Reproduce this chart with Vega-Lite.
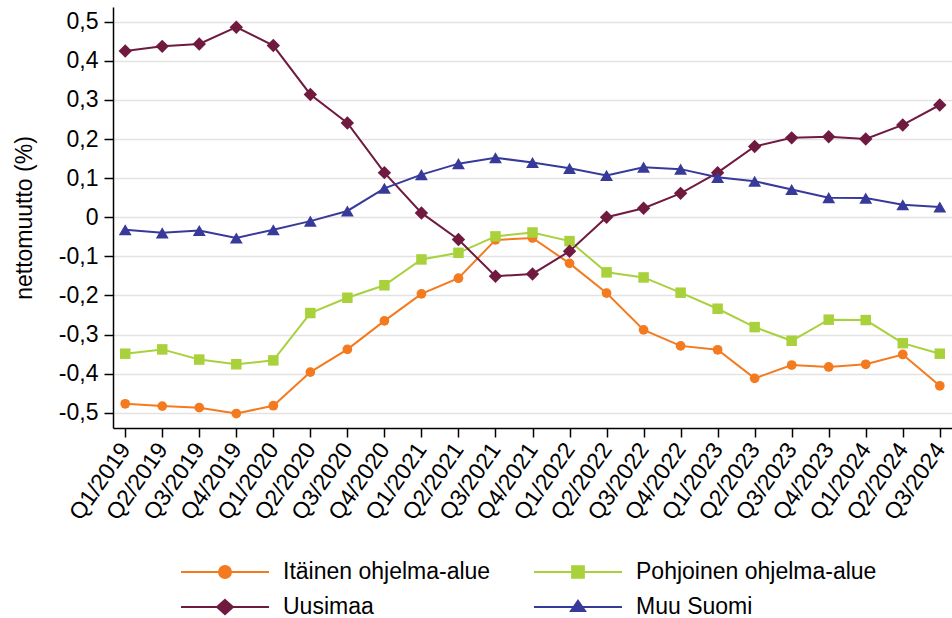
{
  "$schema": "https://vega.github.io/schema/vega-lite/v6.json",
  "width": 839,
  "height": 421,
  "autosize": {"type": "none"},
  "padding": {"left": 113, "top": 7, "right": 0, "bottom": 190},
  "background": "white",
  "config": {
    "view": {"stroke": null},
    "font": "Liberation Sans",
    "axis": {"labelFont": "Liberation Sans", "titleFont": "Liberation Sans", "labelColor": "black", "titleColor": "black", "domainColor": "black", "tickColor": "black", "domainWidth": 1.5, "tickWidth": 1.5, "tickSize": 9}
  },
  "data": {"values": [
    {"q":"Q1/2019","s":"Itäinen ohjelma-alue","v":-0.477},{"q":"Q2/2019","s":"Itäinen ohjelma-alue","v":-0.483},{"q":"Q3/2019","s":"Itäinen ohjelma-alue","v":-0.487},{"q":"Q4/2019","s":"Itäinen ohjelma-alue","v":-0.502},
    {"q":"Q1/2020","s":"Itäinen ohjelma-alue","v":-0.482},{"q":"Q2/2020","s":"Itäinen ohjelma-alue","v":-0.396},{"q":"Q3/2020","s":"Itäinen ohjelma-alue","v":-0.338},{"q":"Q4/2020","s":"Itäinen ohjelma-alue","v":-0.265},
    {"q":"Q1/2021","s":"Itäinen ohjelma-alue","v":-0.196},{"q":"Q2/2021","s":"Itäinen ohjelma-alue","v":-0.156},{"q":"Q3/2021","s":"Itäinen ohjelma-alue","v":-0.058},{"q":"Q4/2021","s":"Itäinen ohjelma-alue","v":-0.053},
    {"q":"Q1/2022","s":"Itäinen ohjelma-alue","v":-0.118},{"q":"Q2/2022","s":"Itäinen ohjelma-alue","v":-0.194},{"q":"Q3/2022","s":"Itäinen ohjelma-alue","v":-0.288},{"q":"Q4/2022","s":"Itäinen ohjelma-alue","v":-0.329},
    {"q":"Q1/2023","s":"Itäinen ohjelma-alue","v":-0.339},{"q":"Q2/2023","s":"Itäinen ohjelma-alue","v":-0.412},{"q":"Q3/2023","s":"Itäinen ohjelma-alue","v":-0.378},{"q":"Q4/2023","s":"Itäinen ohjelma-alue","v":-0.383},
    {"q":"Q1/2024","s":"Itäinen ohjelma-alue","v":-0.376},{"q":"Q2/2024","s":"Itäinen ohjelma-alue","v":-0.351},{"q":"Q3/2024","s":"Itäinen ohjelma-alue","v":-0.431},
    {"q":"Q1/2019","s":"Pohjoinen ohjelma-alue","v":-0.349},{"q":"Q2/2019","s":"Pohjoinen ohjelma-alue","v":-0.338},{"q":"Q3/2019","s":"Pohjoinen ohjelma-alue","v":-0.364},{"q":"Q4/2019","s":"Pohjoinen ohjelma-alue","v":-0.376},
    {"q":"Q1/2020","s":"Pohjoinen ohjelma-alue","v":-0.366},{"q":"Q2/2020","s":"Pohjoinen ohjelma-alue","v":-0.245},{"q":"Q3/2020","s":"Pohjoinen ohjelma-alue","v":-0.206},{"q":"Q4/2020","s":"Pohjoinen ohjelma-alue","v":-0.174},
    {"q":"Q1/2021","s":"Pohjoinen ohjelma-alue","v":-0.108},{"q":"Q2/2021","s":"Pohjoinen ohjelma-alue","v":-0.091},{"q":"Q3/2021","s":"Pohjoinen ohjelma-alue","v":-0.049},{"q":"Q4/2021","s":"Pohjoinen ohjelma-alue","v":-0.039},
    {"q":"Q1/2022","s":"Pohjoinen ohjelma-alue","v":-0.061},{"q":"Q2/2022","s":"Pohjoinen ohjelma-alue","v":-0.141},{"q":"Q3/2022","s":"Pohjoinen ohjelma-alue","v":-0.154},{"q":"Q4/2022","s":"Pohjoinen ohjelma-alue","v":-0.193},
    {"q":"Q1/2023","s":"Pohjoinen ohjelma-alue","v":-0.234},{"q":"Q2/2023","s":"Pohjoinen ohjelma-alue","v":-0.281},{"q":"Q3/2023","s":"Pohjoinen ohjelma-alue","v":-0.316},{"q":"Q4/2023","s":"Pohjoinen ohjelma-alue","v":-0.262},
    {"q":"Q1/2024","s":"Pohjoinen ohjelma-alue","v":-0.263},{"q":"Q2/2024","s":"Pohjoinen ohjelma-alue","v":-0.322},{"q":"Q3/2024","s":"Pohjoinen ohjelma-alue","v":-0.349},
    {"q":"Q1/2019","s":"Uusimaa","v":0.425},{"q":"Q2/2019","s":"Uusimaa","v":0.437},{"q":"Q3/2019","s":"Uusimaa","v":0.443},{"q":"Q4/2019","s":"Uusimaa","v":0.486},
    {"q":"Q1/2020","s":"Uusimaa","v":0.439},{"q":"Q2/2020","s":"Uusimaa","v":0.314},{"q":"Q3/2020","s":"Uusimaa","v":0.241},{"q":"Q4/2020","s":"Uusimaa","v":0.114},
    {"q":"Q1/2021","s":"Uusimaa","v":0.011},{"q":"Q2/2021","s":"Uusimaa","v":-0.057},{"q":"Q3/2021","s":"Uusimaa","v":-0.151},{"q":"Q4/2021","s":"Uusimaa","v":-0.145},
    {"q":"Q1/2022","s":"Uusimaa","v":-0.087},{"q":"Q2/2022","s":"Uusimaa","v":0.0},{"q":"Q3/2022","s":"Uusimaa","v":0.023},{"q":"Q4/2022","s":"Uusimaa","v":0.061},
    {"q":"Q1/2023","s":"Uusimaa","v":0.114},{"q":"Q2/2023","s":"Uusimaa","v":0.181},{"q":"Q3/2023","s":"Uusimaa","v":0.203},{"q":"Q4/2023","s":"Uusimaa","v":0.206},
    {"q":"Q1/2024","s":"Uusimaa","v":0.2},{"q":"Q2/2024","s":"Uusimaa","v":0.236},{"q":"Q3/2024","s":"Uusimaa","v":0.287},
    {"q":"Q1/2019","s":"Muu Suomi","v":-0.032},{"q":"Q2/2019","s":"Muu Suomi","v":-0.04},{"q":"Q3/2019","s":"Muu Suomi","v":-0.034},{"q":"Q4/2019","s":"Muu Suomi","v":-0.053},
    {"q":"Q1/2020","s":"Muu Suomi","v":-0.032},{"q":"Q2/2020","s":"Muu Suomi","v":-0.01},{"q":"Q3/2020","s":"Muu Suomi","v":0.016},{"q":"Q4/2020","s":"Muu Suomi","v":0.074},
    {"q":"Q1/2021","s":"Muu Suomi","v":0.109},{"q":"Q2/2021","s":"Muu Suomi","v":0.137},{"q":"Q3/2021","s":"Muu Suomi","v":0.152},{"q":"Q4/2021","s":"Muu Suomi","v":0.14},
    {"q":"Q1/2022","s":"Muu Suomi","v":0.125},{"q":"Q2/2022","s":"Muu Suomi","v":0.107},{"q":"Q3/2022","s":"Muu Suomi","v":0.128},{"q":"Q4/2022","s":"Muu Suomi","v":0.123},
    {"q":"Q1/2023","s":"Muu Suomi","v":0.102},{"q":"Q2/2023","s":"Muu Suomi","v":0.092},{"q":"Q3/2023","s":"Muu Suomi","v":0.071},{"q":"Q4/2023","s":"Muu Suomi","v":0.05},
    {"q":"Q1/2024","s":"Muu Suomi","v":0.049},{"q":"Q2/2024","s":"Muu Suomi","v":0.032},{"q":"Q3/2024","s":"Muu Suomi","v":0.026}
  ]},
  "encoding": {
    "x": {"field": "q", "type": "ordinal", "sort": null, "scale": {"type": "point", "padding": 0.33},
      "axis": {"title": null, "labelAngle": -55, "labelAlign": "right", "labelBaseline": "middle", "labelFontSize": 23, "labelPadding": 8, "labelOverlap": false, "grid": false}},
    "y": {"field": "v", "type": "quantitative", "scale": {"domain": [-0.539, 0.5376], "nice": false, "zero": false},
      "axis": {"title": "nettomuutto (%)", "titleFontSize": 23, "titleFontWeight": "normal", "titleX": -82, "titleBaseline": "alphabetic",
        "values": [-0.5, -0.4, -0.3, -0.2, -0.1, 0, 0.1, 0.2, 0.3, 0.4, 0.5],
        "labelExpr": "datum.value == 0 ? '0' : replace(toString(round(datum.value*10)/10), '.', ',')",
        "labelFontSize": 23, "labelPadding": 6, "grid": true, "gridColor": "#e3e3e3", "gridWidth": 1.5}}
  },
  "layer": [
    {"mark": {"type": "rule", "color": "black", "strokeWidth": 2, "strokeDash": [9, 5]}, "encoding": {"y": {"datum": 0}}},
    {
      "encoding": {
        "color": {"field": "s", "type": "nominal",
          "scale": {"domain": ["Itäinen ohjelma-alue", "Pohjoinen ohjelma-alue", "Uusimaa", "Muu Suomi"], "range": ["#F47A20", "#A8D13C", "#701A40", "#383A9A"]},
          "legend": {"title": null, "orient": "none", "legendX": 67, "legendY": 553, "columns": 2, "direction": "horizontal", "clipHeight": 24,
            "symbolSize": 7744, "symbolStrokeWidth": 2, "labelFontSize": 23, "labelFont": "Liberation Sans", "labelColor": "black", "labelOffset": 13, "columnPadding": 42, "rowPadding": 11, "labelLimit": 400,
            "encode": {"symbols": {"update": {
              "size": {"value": 7744},
              "strokeWidth": {"value": 2},
              "opacity": {"value": 1},
              "fillOpacity": {"value": 1},
              "strokeOpacity": {"value": 1}
            }}}}
        }
      },
      "layer": [
        {"mark": {"type": "line", "strokeWidth": 2}},
        {"transform": [{"filter": "false"}],
          "mark": {"type": "point", "filled": true, "opacity": 1},
          "encoding": {
            "shape": {"field": "s", "type": "nominal", "legend": null,
              "scale": {"domain": ["Itäinen ohjelma-alue", "Pohjoinen ohjelma-alue", "Uusimaa", "Muu Suomi"],
                "range": ["M-1,0H1M-0.136,0A0.136,0.136,0,1,1,0.136,0A0.136,0.136,0,1,1,-0.136,0Z", "M-1,0H1M-0.133,-0.133H0.133V0.133H-0.133Z", "M-1,0H1M0,-0.16L0.18,0L0,0.16L-0.18,0Z", "M-1,0H1M0,-0.14L0.16,0.09L-0.16,0.09Z"]}}
          }}
      ]
    },
    {"transform": [{"filter": "datum.s === 'Itäinen ohjelma-alue'"}], "mark": {"type": "point", "shape": "circle", "filled": true, "opacity": 1, "size": 95, "color": "#F47A20"}},
    {"transform": [{"filter": "datum.s === 'Pohjoinen ohjelma-alue'"}], "mark": {"type": "point", "shape": "square", "filled": true, "opacity": 1, "size": 110, "color": "#A8D13C"}},
    {"transform": [{"filter": "datum.s === 'Uusimaa'"}], "mark": {"type": "point", "shape": "diamond", "filled": true, "opacity": 1, "size": 180, "color": "#701A40"}},
    {"transform": [{"filter": "datum.s === 'Muu Suomi'"}], "mark": {"type": "point", "shape": "triangle-up", "filled": true, "opacity": 1, "size": 165, "color": "#383A9A"}}
  ]
}
